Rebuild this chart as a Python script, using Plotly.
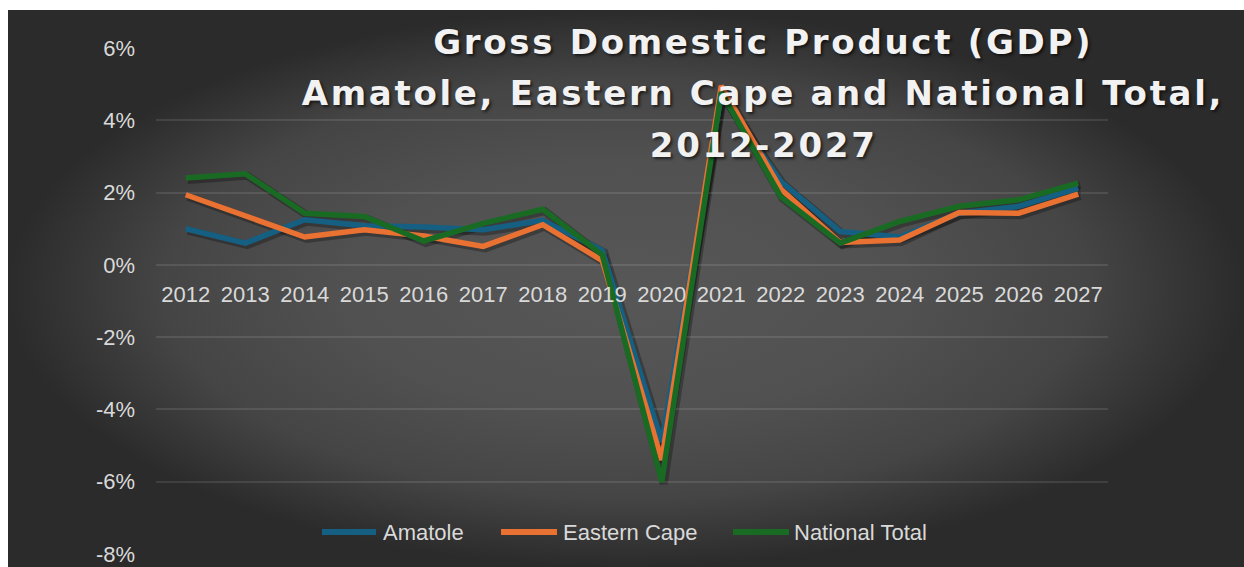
import plotly.graph_objects as go

# ---- data -------------------------------------------------------------
years = [str(y) for y in range(2012, 2028)]
amatole = [1.00, 0.60, 1.25, 1.08, 1.05, 0.97, 1.23, 0.40, -4.90, 4.70,
           2.31, 0.92, 0.77, 1.43, 1.62, 2.12]
eastern_cape = [1.94, 1.36, 0.77, 0.97, 0.80, 0.51, 1.11, 0.12, -5.40, 4.95,
                2.10, 0.62, 0.69, 1.45, 1.43, 1.96]
national_total = [2.40, 2.52, 1.43, 1.34, 0.66, 1.15, 1.54, 0.28, -6.00, 4.78,
                  1.89, 0.60, 1.20, 1.62, 1.80, 2.26]
y_tick_values = [-8, -6, -4, -2, 0, 2, 4, 6]
y_tick_labels = ["-8%", "-6%", "-4%", "-2%", "0%", "2%", "4%", "6%"]

series_names = ["Amatole", "Eastern Cape", "National Total"]
series_values = [amatole, eastern_cape, national_total]
series_colors = ["#156082", "#E97132", "#196B24"]

title_lines = ["Gross Domestic Product (GDP)",
               "Amatole, Eastern Cape and National Total,",
               "2012-2027"]

# ---- canvas geometry (pixels) -----------------------------------------
W, H = 1244, 567
PLOT_L, PLOT_R = 156, 1108
PLOT_T, PLOT_B = 48, 554
ZERO_Y = 265
SHADOW = 2

TICK_FONT = dict(family="Liberation Sans, Arial, sans-serif", size=22, color="#d9d9d9")

fig = go.Figure()

# dark radial-gradient chart area on a pixel-unit backdrop axis pair
fig.add_trace(go.Scatter(
    x=[8, W, W, 8, 8], y=[0, 0, H - 10, H - 10, 0],
    xaxis="x", yaxis="y", mode="lines", line=dict(width=0),
    fill="toself",
    fillgradient=dict(type="radial",
                      colorscale=[[0, "#575757"], [0.45, "#515151"],
                                  [0.75, "#454545"], [1, "#2b2b2b"]]),
    hoverinfo="skip", showlegend=False,
))

# soft drop shadow under each series (same data, slightly offset axes)
for vals in series_values:
    fig.add_trace(go.Scatter(
        x=years, y=vals, xaxis="x2", yaxis="y2", mode="lines",
        line=dict(color="rgba(0,0,0,0.28)", width=8),
        hoverinfo="skip", showlegend=False,
    ))

# the series themselves
for name, vals, color in zip(series_names, series_values, series_colors):
    fig.add_trace(go.Scatter(
        x=years, y=vals, name=name, xaxis="x3", yaxis="y3", mode="lines",
        line=dict(color=color, width=5.5), showlegend=False,
    ))

x_dom = [PLOT_L / W, PLOT_R / W]
y_dom = [1 - PLOT_B / H, 1 - PLOT_T / H]
x_dom_s = [(PLOT_L + SHADOW) / W, (PLOT_R + SHADOW) / W]
y_dom_s = [1 - (PLOT_B + SHADOW) / H, 1 - (PLOT_T + SHADOW) / H]

hidden = dict(visible=False, showgrid=False, zeroline=False, fixedrange=True,
              automargin=False)

fig.update_layout(
    width=W, height=H,
    margin=dict(l=0, r=0, t=0, b=0, pad=0, autoexpand=False),
    paper_bgcolor="white",
    plot_bgcolor="rgba(0,0,0,0)",
    showlegend=False,
    xaxis=dict(domain=[0, 1], range=[0, W], **hidden),
    yaxis=dict(domain=[0, 1], range=[0, H], **hidden),
    xaxis2=dict(domain=x_dom_s, range=[-0.5, 15.5], type="category", anchor="y2", **hidden),
    yaxis2=dict(domain=y_dom_s, range=[-8, 6], anchor="x2", **hidden),
    xaxis3=dict(domain=x_dom, range=[-0.5, 15.5], type="category",
                anchor="free", position=1 - ZERO_Y / H, automargin=False,
                showgrid=False, zeroline=False, showline=False, ticks="",
                tickfont=TICK_FONT, ticklabelstandoff=14, fixedrange=True),
    yaxis3=dict(domain=y_dom, range=[-8, 6], anchor="x3", automargin=False,
                tickvals=y_tick_values, ticktext=y_tick_labels,
                showgrid=True, gridcolor="rgba(255,255,255,0.10)", gridwidth=2,
                zeroline=False, showline=False, ticks="",
                tickfont=TICK_FONT, ticklabelstandoff=20, fixedrange=True),
)

# title, three centred lines
title_font = dict(family="DejaVu Sans, sans-serif", size=34, color="#f2f2f2",
                  weight="bold", shadow="2px 2px 3px rgba(0,0,0,0.6)")
for line, yc in zip(title_lines, [42, 93, 145]):
    fig.add_annotation(text=line, xref="x", yref="y", x=763, y=H - yc,
                       xanchor="center", yanchor="middle", showarrow=False,
                       font=title_font)

# legend row along the bottom
legend_y = H - 532
legend_items = [(322, 376, 381), (501, 557, 561), (733, 789, 792)]
for name, color, (x0, x1, xt) in zip(series_names, series_colors, legend_items):
    fig.add_shape(type="line", xref="x", yref="y", x0=x0, x1=x1,
                  y0=legend_y, y1=legend_y, line=dict(color=color, width=6))
    fig.add_annotation(text=name, xref="x", yref="y", x=xt, y=legend_y,
                       xanchor="left", yanchor="middle", showarrow=False,
                       font=TICK_FONT)

# widen the tracking of the large title lines
spacing_js = """
var gd = document.getElementById('{plot_id}');
function spaceTitle() {
  gd.querySelectorAll('g.annotation text').forEach(function (t) {
    if (parseFloat(t.style.fontSize) >= 30) { t.style.letterSpacing = '2.7px'; }
  });
}
spaceTitle();
gd.on('plotly_afterplot', spaceTitle);
"""

fig.write_html("out.html", post_script=spacing_js)
